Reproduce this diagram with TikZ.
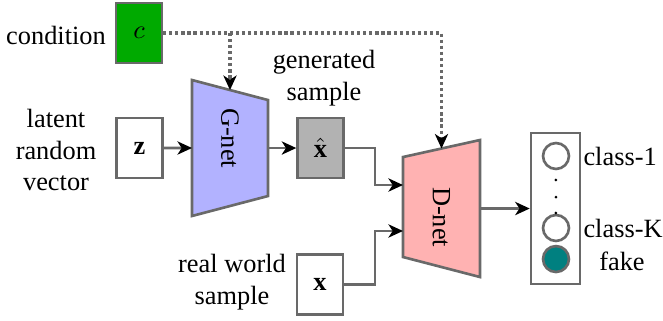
\documentclass[tikz,border=0pt]{standalone}
\usepackage{fontspec}
\setmainfont{Liberation Serif}
\usetikzlibrary{arrows.meta,calc}
\definecolor{CondClr}{RGB}{0,170,0}
\definecolor{GClr}{RGB}{178,178,255}
\definecolor{DClr}{RGB}{255,178,178}
\definecolor{FakeClr}{RGB}{0,128,128}
\definecolor{LineClr}{RGB}{105,105,105}

\begin{document}
\begin{tikzpicture}[
  blk/.style={draw=LineClr,line width=1pt,minimum width=0.61cm,minimum height=0.8cm,inner sep=0pt},
  netedge/.style={draw=LineClr,line width=1pt},
  link/.style={draw=LineClr,line width=1pt,-{Stealth[black,length=5.5pt,width=5pt,inset=1.6pt]}},
  condlink/.style={link,line width=1.2pt,dash pattern=on 1.2pt off 1.1pt},
  unit/.style={circle,draw=LineClr,line width=1pt,minimum size=0.346cm,inner sep=0pt},
  lbl/.style={align=center,inner sep=1pt}
]
\useasboundingbox (0,0) rectangle (8.84,4.267);

% inputs
\node[blk,fill=CondClr] (c) at (1.853,3.827) {$c$};
\node[lbl] (condlbl) at (0.747,3.8) {condition};
\node[blk] (z) at (1.86,2.293) {$\mathbf{z}$};
\node[lbl] (zlbl) at (0.747,2.267) {latent\\random\\vector};
\node[blk] (x) at (4.267,0.473) {$\mathbf{x}$};
\node[lbl] (xlbl) at (3.093,0.507) {real world\\sample};

% generator
\coordinate (glt) at (2.56,3.2);
\coordinate (grt) at (3.573,2.933);
\coordinate (grb) at (3.573,1.653);
\coordinate (glb) at (2.56,1.387);
\draw[netedge,fill=GClr] (glt) -- (grt) -- (grb) -- (glb) -- cycle;
\node[rotate=-90] (gnet) at ($(glt)!0.5!(grb)$) {G-net};
\coordinate (gin) at ($(glt)!0.5!(glb)$);
\coordinate (gout) at ($(grt)!0.5!(grb)$);
\coordinate (gtop) at ($(glt)!0.5!(grt)$);

\node[blk,fill=gray!60] (xhat) at (4.273,2.293) {$\hat{\mathbf{x}}$};
\node[lbl] (xhatlbl) at (4.32,3.227) {generated\\sample};

% discriminator
\coordinate (dlt) at (5.373,2.173);
\coordinate (drt) at (6.4,2.4);
\coordinate (drb) at (6.4,0.573);
\coordinate (dlb) at (5.373,0.84);
\draw[netedge,fill=DClr] (dlt) -- (drt) -- (drb) -- (dlb) -- cycle;
\node[rotate=-90] (dnet) at ($(dlt)!0.5!(drb)$) {D-net};
\coordinate (din1) at (5.373,1.8);
\coordinate (din2) at (5.373,1.187);
\coordinate (dout) at ($(drt)!0.5!(drb)$);
\coordinate (dtop) at ($(dlt)!0.5!(drt)$);
\coordinate (mrg) at (5.0,0);

% output
\node[draw=LineClr,line width=1pt,minimum width=0.653cm,minimum height=2.013cm,inner sep=0pt] (out) at (7.407,1.487) {};
\node[unit] (o1) at (7.413,2.187) {};
\node[unit] (oK) at (7.413,1.227) {};
\node[unit,fill=FakeClr] (ofake) at (7.413,0.813) {};
\foreach \y in {1.867,1.64,1.427}
  \fill (7.413,\y) circle (0.02);
\node[anchor=west,inner sep=0pt] (o1lbl) at (7.773,2.187) {class-1};
\node[anchor=west,inner sep=0pt] (oKlbl) at (7.773,1.227) {class-K};
\node[inner sep=0pt] (ofakelbl) at (8.293,0.78) {fake};

% connections
\draw[link] (z) -- (gin);
\draw[link] (gout) -- (xhat);
\draw[link] (xhat.east) -- (xhat.east -| mrg) |- (din1);
\draw[link] (x.east) -- (x.east -| mrg) |- (din2);
\draw[link] (dout) -- (dout -| out.west);
\draw[condlink] (c.east) -| (dtop);
\draw[condlink] (c.east -| gtop) -- (gtop);

\end{tikzpicture}
\end{document}
